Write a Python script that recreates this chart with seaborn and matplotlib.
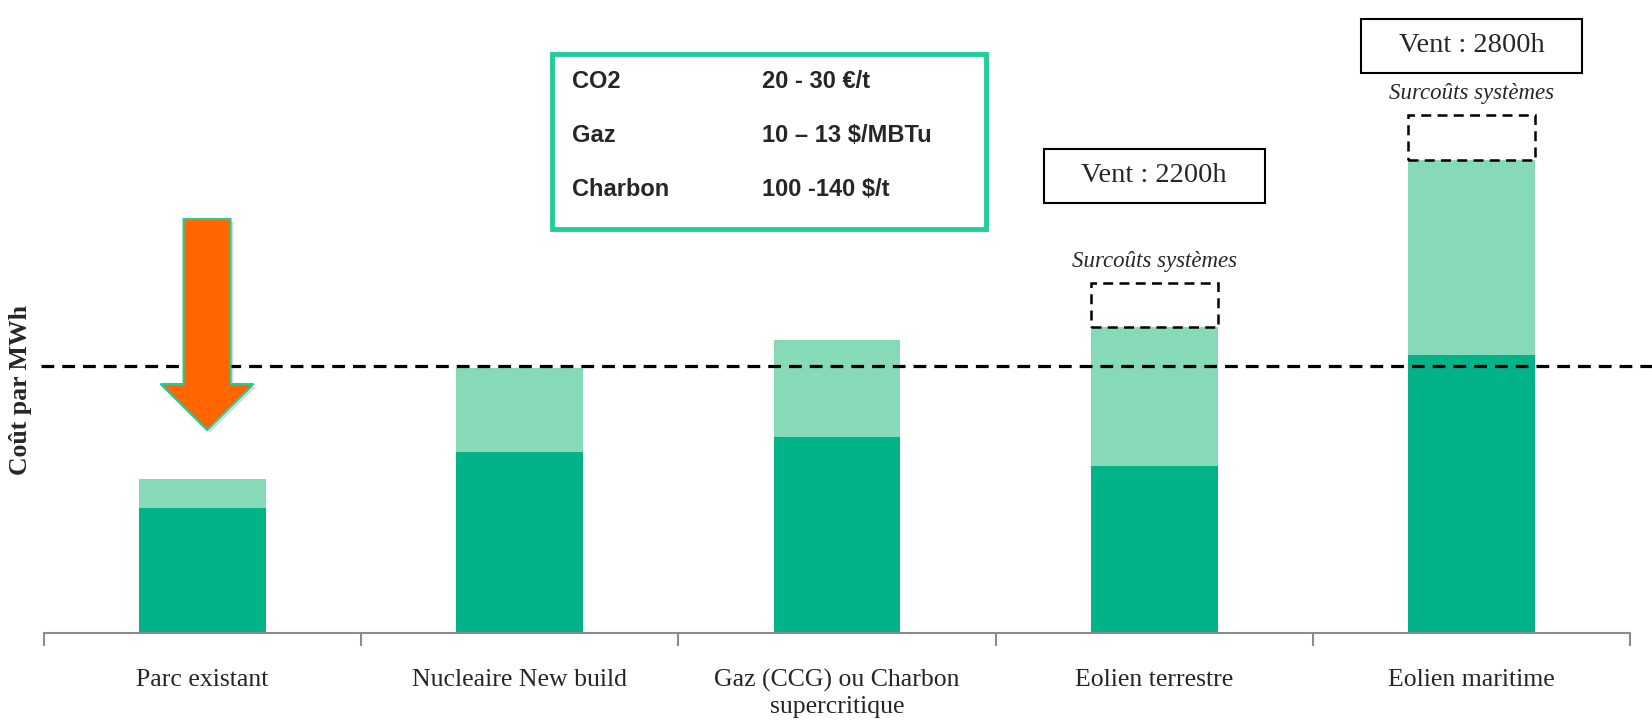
import matplotlib
matplotlib.use("Agg")
import matplotlib.pyplot as plt
import matplotlib.patches as mpatches
import matplotlib.patheffects as pe
import seaborn as sns
import pandas as pd

# données (unités arbitraires, coût par MWh)
categories = ["Parc existant", "Nucleaire New build", "Gaz (CCG) ou Charbon\nsupercritique",
              "Eolien terrestre", "Eolien maritime"]
cout_base = [125, 181, 196, 167, 278]
cout_extra = [29, 84, 97, 139, 195]
surcouts = [0, 0, 0, 44, 45]
ref_niveau = 267
vent_labels = ["", "", "", "Vent : 2200h", "Vent : 2800h"]
hyp_noms = ["CO2", "Gaz", "Charbon"]
hyp_vals = ["20 - 30 €/t", "10 – 13 $/MBTu", "100 -140 $/t"]

# mise en page (positions en unités de l'axe y)
vent_y = [0, 0, 0, 457, 587]

dark = "#02B388"
light = "#86DAB7"
edge_green = "#1FCF9A"
serif = ["Liberation Serif", "DejaVu Serif"]
sans = ["Liberation Sans", "DejaVu Sans"]

df = pd.DataFrame({"cat": categories, "base": cout_base,
                   "total": [b + e for b, e in zip(cout_base, cout_extra)]})

sns.set_style("white")
fig = plt.figure(figsize=(16.52, 7.21), dpi=100)
ax = fig.add_axes([44 / 1652, 88 / 721, 1586 / 1652, 633 / 721])

sns.barplot(data=df, x="cat", y="total", color=light, saturation=1, width=0.4,
            linewidth=0, ax=ax)
sns.barplot(data=df, x="cat", y="base", color=dark, saturation=1, width=0.4,
            linewidth=0, ax=ax)

ax.set_xlim(-0.5, 4.5)
ax.set_ylim(0, 633)

# surcoûts systèmes (boîtes en pointillés) et heures de vent
for i, s in enumerate(surcouts):
    if s > 0:
        top = df["total"][i]
        ax.add_patch(mpatches.Rectangle((i - 0.2, top), 0.4, s, fill=False,
                                        ls=(0, (4, 2.5)), lw=1.8, ec="black", zorder=4))
        ax.text(i, top + s + 22, "Surcoûts systèmes", ha="center", va="center",
                family=serif, style="italic", fontsize=16.5)
    if vent_labels[i]:
        ax.add_patch(mpatches.Rectangle((i - 0.348, vent_y[i] - 27), 0.696, 54,
                                        fc="white", ec="black", lw=1.5, clip_on=False))
        ax.text(i, vent_y[i], vent_labels[i], ha="center", va="center",
                family=serif, fontsize=20.5)

# niveau de référence
ax.plot([-0.51, 4.6], [ref_niveau, ref_niveau], color="black", ls=(0, (4, 2.5)),
        lw=2.3, clip_on=False, zorder=5)

# flèche
arrow = mpatches.FancyArrow(0.014, 414, 0, -211, width=0.148, head_width=0.293,
                            head_length=46, length_includes_head=True,
                            fc="#FF6600", ec=edge_green, lw=1.5, zorder=6)
arrow.set_path_effects([pe.SimplePatchShadow(offset=(2, -2), alpha=0.18), pe.Normal()])
ax.add_patch(arrow)

# axes
sns.despine(ax=ax, left=True)
ax.spines["bottom"].set_color("#8C8C8C")
ax.spines["bottom"].set_linewidth(1.5)
ax.set_yticks([])
ax.set_xticks(range(5))
ax.set_xticklabels(categories, family=serif, fontsize=18.5, linespacing=1.2)
ax.tick_params(axis="x", which="major", length=0, pad=26)
ax.set_xticks([i - 0.5 for i in range(6)], minor=True)
ax.tick_params(axis="x", which="minor", bottom=True, length=9, width=1.5, color="#8C8C8C")
ax.set_xlabel("")
ax.set_ylabel("")
fig.text(21 / 1652, 1 - 390 / 721, "Coût par MWh", rotation=90, ha="center", va="center",
         family=serif, weight="bold", fontsize=18.5)

# encadré hypothèses
fig.add_artist(mpatches.Rectangle((552 / 1652, 1 - 229 / 721), 434 / 1652, 175 / 721,
                                  transform=fig.transFigure, fill=False, ec=edge_green, lw=3.5))
rows_y = [82, 136, 189]
for nom, val, y in zip(hyp_noms, hyp_vals, rows_y):
    fig.text(572 / 1652, 1 - y / 721, nom, family=sans, weight="bold", fontsize=17, va="center")
    fig.text(762 / 1652, 1 - y / 721, val, family=sans, weight="bold", fontsize=17, va="center")

fig.savefig("out.png", dpi=100)
